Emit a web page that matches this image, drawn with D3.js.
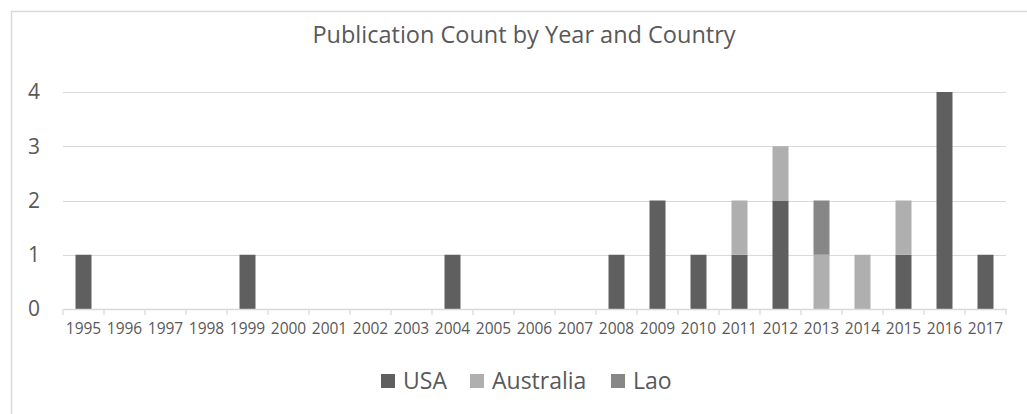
<!DOCTYPE html>
<html>
<head>
<meta charset="utf-8">
<script src="https://cdn.jsdelivr.net/npm/d3@7"></script>
<style>
  body { margin: 0; background: #fff; }
  svg { display: block; }
  text { font-family: "Open Sans", sans-serif; fill: #595959; }
</style>
</head>
<body>
<div id="chart"></div>
<script>
(function(){
    "use strict";

    //------------------------------------------------------------------------------------------
    // Data
    //------------------------------------------------------------------------------------------
    var years = ["1995","1996","1997","1998","1999","2000","2001","2002","2003","2004","2005",
                 "2006","2007","2008","2009","2010","2011","2012","2013","2014","2015","2016","2017"];
    var usa       = [1,0,0,0,1,0,0,0,0,1,0,0,0,1,2,1,1,2,0,0,1,4,1];
    var australia = [0,0,0,0,0,0,0,0,0,0,0,0,0,0,0,0,1,1,1,1,1,0,0];
    var lao       = [0,0,0,0,0,0,0,0,0,0,0,0,0,0,0,0,0,0,1,0,0,0,0];
    var seriesNames = ["USA", "Australia", "Lao"];
    var colors = ["#5f5f5f", "#afafaf", "#878787"];
    var yTicks = [0, 1, 2, 3, 4];

    var width = 1027, height = 414;
    var margin = { top: 92, right: 21, bottom: 105, left: 63 };

    var svg = d3.select("#chart").append("svg")
        .attr("width", width)
        .attr("height", height);

    // chart border (runs off the right / bottom edge)
    svg.append("rect")
        .attr("x", 11.5).attr("y", 11.5)
        .attr("width", 1040).attr("height", 420)
        .attr("fill", "none")
        .attr("stroke", "#d9d9d9")
        .attr("stroke-width", 1.5);

    var x = d3.scaleBand()
        .domain(years)
        .range([margin.left, width - margin.right])
        .paddingInner(0.61)
        .paddingOuter(0.305);

    var y = d3.scaleLinear()
        .domain([0, 4])
        .range([height - margin.bottom, margin.top]);

    // gridlines
    svg.append("g")
        .selectAll("line")
        .data(yTicks.slice(1))
        .enter().append("line")
        .attr("x1", margin.left).attr("x2", width - margin.right)
        .attr("y1", function(d) { return Math.round(y(d)) + 0.5; })
        .attr("y2", function(d) { return Math.round(y(d)) + 0.5; })
        .attr("stroke", "#d9d9d9")
        .attr("stroke-width", 1.2);

    // y labels
    svg.append("g")
        .selectAll("text")
        .data(yTicks)
        .enter().append("text")
        .attr("x", 40)
        .attr("y", function(d) { return y(d); })
        .attr("dy", "0.35em")
        .attr("text-anchor", "end")
        .style("font-size", "21px")
        .text(function(d) { return d; });

    // stacked bars
    var table = years.map(function(yr, i) {
        return { year: yr, USA: usa[i], Australia: australia[i], Lao: lao[i] };
    });
    var stack = d3.stack().keys(seriesNames)(table);

    svg.append("g")
        .selectAll("g")
        .data(stack)
        .enter().append("g")
        .attr("fill", function(d, i) { return colors[i]; })
        .selectAll("rect")
        .data(function(d) { return d; })
        .enter().append("rect")
        .attr("x", function(d) { return x(d.data.year); })
        .attr("width", x.bandwidth())
        .attr("y", function(d) { return y(d[1]); })
        .attr("height", function(d) { return y(d[0]) - y(d[1]); });

    // x axis
    var xAxis = d3.axisBottom(x).tickSize(0).tickPadding(14);
    var gx = svg.append("g")
        .attr("transform", "translate(0," + y(0) + ")")
        .call(xAxis);
    gx.select(".domain").attr("stroke", "#d9d9d9").attr("stroke-width", 1.5);
    gx.selectAll("text")
        .style("font-family", "\"Open Sans\", sans-serif")
        .style("font-size", "15.5px")
        .style("fill", "#595959");

    // tick marks between categories
    var step = x.step();
    var bounds = d3.range(years.length + 1).map(function(i) {
        return margin.left + i * step;
    });
    svg.append("g")
        .selectAll("line")
        .data(bounds)
        .enter().append("line")
        .attr("x1", function(d) { return d; }).attr("x2", function(d) { return d; })
        .attr("y1", y(0)).attr("y2", y(0) + 6)
        .attr("stroke", "#d9d9d9")
        .attr("stroke-width", 1.2);

    // title
    svg.append("text")
        .attr("x", 524).attr("y", 35)
        .attr("dy", "0.35em")
        .attr("text-anchor", "middle")
        .style("font-size", "23.5px")
        .text("Publication Count by Year and Country");

    // legend
    var legendX = [381, 470, 611];
    var legend = svg.append("g")
        .selectAll("g")
        .data(seriesNames)
        .enter().append("g")
        .attr("transform", function(d, i) { return "translate(" + legendX[i] + ",381)"; });
    legend.append("rect")
        .attr("x", 0).attr("y", -7)
        .attr("width", 14).attr("height", 14)
        .attr("fill", function(d, i) { return colors[i]; });
    legend.append("text")
        .attr("x", 22).attr("y", 0)
        .attr("dy", "0.35em")
        .style("font-size", "23px")
        .text(function(d) { return d; });
})();
</script>
</body>
</html>
